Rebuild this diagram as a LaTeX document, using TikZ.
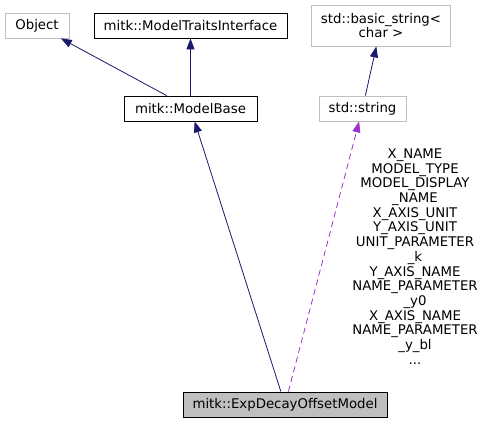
\documentclass[tikz,border=0pt]{standalone}
\usepackage{fontspec}
\setmainfont{DejaVu Sans}
\usetikzlibrary{arrows.meta}

\definecolor{edgeblue}{HTML}{191970}
\definecolor{edgepurple}{HTML}{9A32CD}
\definecolor{boxgray}{HTML}{BFBFBF}

\tikzset{
    cls/.style={draw=black, rectangle, inner sep=0pt, minimum height=25pt, align=center},
    extcls/.style={cls, draw=boxgray},
    inherit/.style={-{Triangle[length=11pt,width=8pt]}, edgeblue},
    uses/.style={-{Triangle[length=11pt,width=8pt]}, edgepurple, dashed, dash pattern=on 6pt off 4pt}
}

\begin{document}
\begin{tikzpicture}[x=1pt,y=-1pt,font=\fontsize{13.3}{14.7}\selectfont,line width=0.8pt]
    \useasboundingbox (0,0) rectangle (484,423);

    % Top row
    \node[extcls, minimum width=64pt] (obj) at (37,25.5) {Object};
    \node[cls, minimum width=193pt] (traits) at (190.5,25.5) {mitk::ModelTraitsInterface};
    \node[extcls, minimum width=139pt, minimum height=41pt] (bstr) at (381,25.5) {std::basic\_string<\\char >};

    % Middle row
    \node[cls, minimum width=133pt] (base) at (190.5,108.5) {mitk::ModelBase};
    \node[extcls, minimum width=87pt] (str) at (362.5,108.5) {std::string};

    % Bottom class
    \node[cls, fill=boxgray, minimum width=204pt] (exp) at (285,404.5) {mitk::ExpDecayOffsetModel};

    % Member names
    \node[align=center, inner sep=0pt] (members) at (415,256.5) {X\_NAME\\MODEL\_TYPE\\MODEL\_DISPLAY\\\_NAME\\X\_AXIS\_UNIT\\Y\_AXIS\_UNIT\\UNIT\_PARAMETER\\\_k\\Y\_AXIS\_NAME\\NAME\_PARAMETER\\\_y0\\X\_AXIS\_NAME\\NAME\_PARAMETER\\\_y\_bl\\...};

    % Connectors
    \draw[inherit] (base) -- (obj);
    \draw[inherit] (base) -- (traits);
    \draw[inherit] (str) -- (bstr);
    \draw[inherit] (exp) -- (base);
    \draw[uses] (exp) -- (str);
\end{tikzpicture}
\end{document}
